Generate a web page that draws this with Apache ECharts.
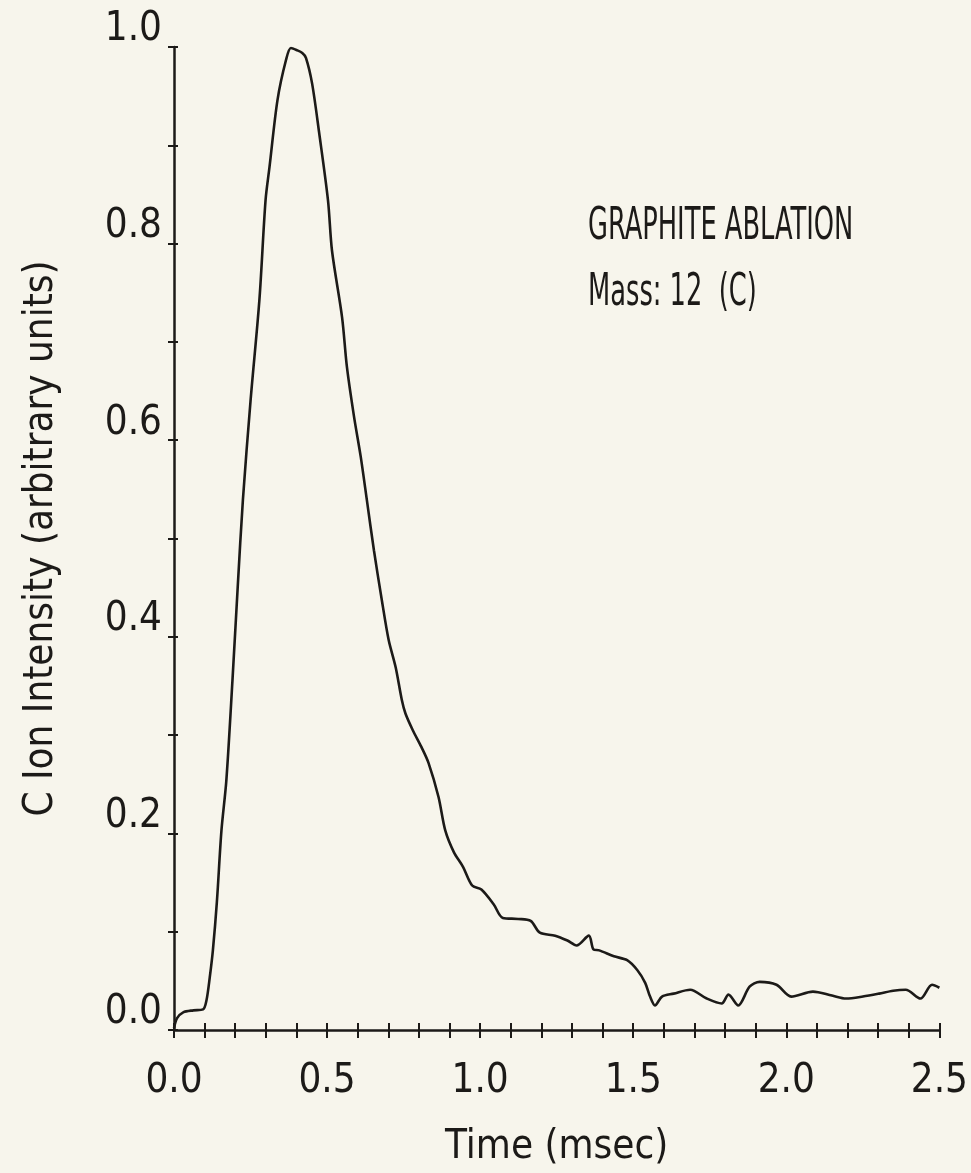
<!DOCTYPE html>
<html>
<head>
<meta charset="utf-8">
<script src="https://cdn.jsdelivr.net/npm/echarts@6/dist/echarts.min.js"></script>
<style>
html,body{margin:0;padding:0;background:#f7f5ec;}
#chart{width:971px;height:1173px;}
</style>
</head>
<body>
<div id="chart"></div>
<script>
// Time (msec)
const times = [0, 0.01, 0.03, 0.063, 0.095, 0.106, 0.117, 0.127, 0.14, 0.155, 0.171, 0.191, 0.208, 0.225, 0.25, 0.279, 0.299, 0.312, 0.338, 0.366, 0.382, 0.40, 0.419, 0.431, 0.451, 0.474, 0.503, 0.516, 0.549, 0.565, 0.588, 0.61, 0.63, 0.653, 0.679, 0.701, 0.724, 0.744, 0.756, 0.78, 0.808, 0.831, 0.864, 0.886, 0.914, 0.944, 0.974, 1.004, 1.044, 1.074, 1.124, 1.165, 1.195, 1.245, 1.285, 1.315, 1.355, 1.37, 1.389, 1.437, 1.48, 1.513, 1.539, 1.555, 1.571, 1.594, 1.632, 1.686, 1.74, 1.789, 1.811, 1.843, 1.88, 1.913, 1.968, 2.016, 2.087, 2.149, 2.195, 2.25, 2.303, 2.349, 2.39, 2.438, 2.476, 2.5];
// C ion intensity (arbitrary units)
const intensity = [0.002, 0.012, 0.018, 0.020, 0.021, 0.03, 0.054, 0.081, 0.13, 0.203, 0.254, 0.356, 0.45, 0.539, 0.64, 0.743, 0.844, 0.878, 0.946, 0.987, 0.999, 0.997, 0.994, 0.989, 0.963, 0.913, 0.844, 0.793, 0.725, 0.674, 0.624, 0.583, 0.539, 0.488, 0.437, 0.397, 0.369, 0.336, 0.322, 0.305, 0.288, 0.272, 0.237, 0.203, 0.181, 0.166, 0.147, 0.143, 0.128, 0.114, 0.113, 0.111, 0.099, 0.096, 0.091, 0.086, 0.096, 0.082, 0.081, 0.075, 0.071, 0.061, 0.048, 0.034, 0.025, 0.034, 0.037, 0.041, 0.032, 0.027, 0.036, 0.025, 0.044, 0.049, 0.046, 0.034, 0.039, 0.035, 0.032, 0.034, 0.037, 0.04, 0.041, 0.032, 0.046, 0.043];
const xTickLabels = ['0.0', '0.5', '1.0', '1.5', '2.0', '2.5'];
const yTickLabels = ['0.0', '0.2', '0.4', '0.6', '0.8', '1.0'];
const annotationLines = ['GRAPHITE ABLATION', 'Mass: 12  (C)'];
const xTitle = 'Time (msec)';
const yTitle = 'C Ion Intensity (arbitrary units)';

const FONT = "'Liberation Sans Narrow', 'DejaVu Sans Condensed', 'Liberation Sans', sans-serif";
const INK = '#1c1a18';
const data = times.map((t, i) => [t, intensity[i]]);

const chart = echarts.init(document.getElementById('chart'), null, {renderer: 'canvas'});

function xAxisBase(extra) {
  return Object.assign({
    type: 'value', min: 0, max: 2.5, interval: 0.5, position: 'bottom',
    splitLine: {show: false},
    minorSplitLine: {show: false}
  }, extra);
}
function yAxisBase(extra) {
  return Object.assign({
    type: 'value', min: 0, max: 1, interval: 0.2, position: 'left',
    splitLine: {show: false},
    minorSplitLine: {show: false}
  }, extra);
}

chart.setOption({
  backgroundColor: '#f7f5ec',
  animation: false,
  grid: {left: 174, right: 26, top: 47, bottom: 143, containLabel: false},
  xAxis: [
    xAxisBase({
      axisLine: {show: true, lineStyle: {color: INK, width: 2.5}},
      axisTick: {show: true, inside: false, length: 8, lineStyle: {color: INK, width: 2}},
      minorTick: {show: true, splitNumber: 5, length: 8, lineStyle: {color: INK, width: 2}},
      axisLabel: {
        show: true, margin: 32, color: INK, fontFamily: FONT, fontSize: 40,
        formatter: v => xTickLabels[Math.round(v / 0.5)]
      },
      name: xTitle, nameLocation: 'middle', nameGap: 98,
      nameTextStyle: {color: INK, fontFamily: FONT, fontSize: 40}
    }),
    xAxisBase({
      axisLine: {show: false},
      axisTick: {show: true, inside: true, length: 7, lineStyle: {color: INK, width: 2}},
      minorTick: {show: true, splitNumber: 5, length: 7, lineStyle: {color: INK, width: 2}},
      axisLabel: {show: false}
    })
  ],
  yAxis: [
    yAxisBase({
      axisLine: {show: true, lineStyle: {color: INK, width: 2.5}},
      axisTick: {show: true, inside: false, length: 6, lineStyle: {color: INK, width: 2}},
      minorTick: {show: true, splitNumber: 2, length: 6, lineStyle: {color: INK, width: 2}},
      axisLabel: {
        show: true, margin: 12, color: INK, fontFamily: FONT, fontSize: 40,
        verticalAlign: 'bottom', lineHeight: 34,
        formatter: v => yTickLabels[Math.round(v / 0.2)]
      },
      name: yTitle, nameLocation: 'middle', nameGap: 112, nameRotate: 90,
      nameTextStyle: {color: INK, fontFamily: FONT, fontSize: 40}
    }),
    yAxisBase({
      axisLine: {show: false},
      axisTick: {show: true, inside: true, length: 4, lineStyle: {color: INK, width: 2}},
      minorTick: {show: true, splitNumber: 2, length: 4, lineStyle: {color: INK, width: 2}},
      axisLabel: {show: false}
    })
  ],
  graphic: [
    {
      type: 'text', left: 588, top: 206, scaleX: 0.65, scaleY: 1,
      style: {text: annotationLines[0], fill: INK, font: '44px ' + FONT}
    },
    {
      type: 'text', left: 588, top: 272, scaleX: 0.65, scaleY: 1,
      style: {text: annotationLines[1], fill: INK, font: '44px ' + FONT}
    }
  ],
  series: [{
    type: 'line',
    data: data,
    xAxisIndex: 0,
    yAxisIndex: 0,
    showSymbol: false,
    smooth: 0.3,
    lineStyle: {color: INK, width: 2.6},
    silent: true
  }]
});
</script>
</body>
</html>
